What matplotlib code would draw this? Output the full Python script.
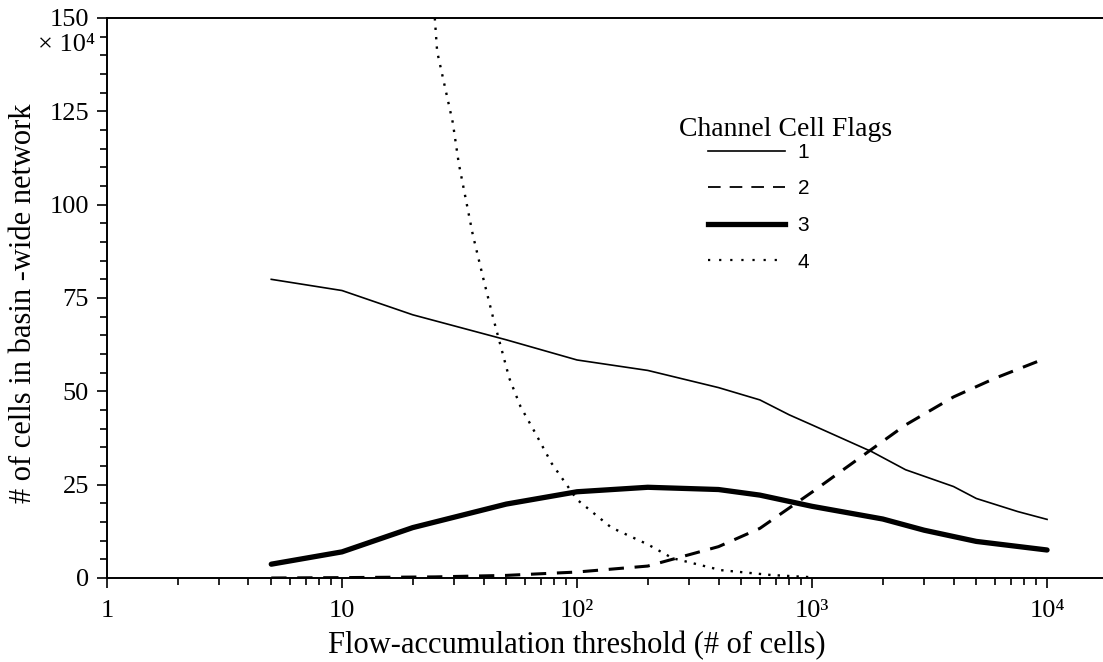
import matplotlib
matplotlib.use('Agg')
import matplotlib.pyplot as plt
from matplotlib.lines import Line2D
from matplotlib.ticker import LogLocator, MultipleLocator, FixedLocator, FixedFormatter, NullFormatter

plt.rcParams['font.family'] = ['Liberation Serif', 'DejaVu Serif']

# flag 1 (thin solid)
x1 = [5, 10, 20, 50, 100, 200, 400, 600, 800, 1000, 1800, 2500, 4000, 5000, 7500, 10000]
y1 = [80, 77, 70.5, 63.8, 58.4, 55.6, 51, 47.7, 43.7, 41, 33.8, 29, 24.5, 21.3, 17.8, 15.7]
# flag 2 (dashed)
x2 = [5, 10, 25, 50, 100, 200, 400, 600, 1000, 2500, 4000, 6000, 10000]
y2 = [0, 0.1, 0.3, 0.7, 1.6, 3.2, 8.4, 13.3, 23, 41, 48.5, 53.5, 59]
# flag 3 (thick solid)
x3 = [5, 10, 20, 50, 100, 200, 400, 600, 1000, 2000, 3000, 5000, 10000]
y3 = [3.7, 7, 13.5, 19.8, 23.1, 24.3, 23.7, 22.2, 19.2, 15.8, 12.8, 9.8, 7.5]
# flag 4 (dotted)
x4 = [24.5, 25.4, 29.6, 31.4, 36, 40, 44, 51.5, 57.5, 66.5, 78, 100, 140, 200, 255, 410, 670, 1000]
y4 = [155, 141, 122, 111, 92, 80, 69.6, 53.5, 45.9, 38.8, 30.7, 21, 13.5, 9, 5.3, 2.1, 0.8, 0.2]

flag_labels = ['1', '2', '3', '4']
xtick_vals = [1, 10, 100, 1000, 10000]
xtick_labels = ['1', '10', '10²', '10³', '10⁴']
ytick_vals = [0, 25, 50, 75, 100, 125, 150]

fig = plt.figure(figsize=(11.03, 6.62), dpi=100)
ax = fig.add_axes([107 / 1103, 1 - 578 / 662, 1 - 107 / 1103, 560 / 662])

l1, = ax.plot(x1, y1, color='black', lw=1.2)
l2, = ax.plot(x2, y2, color='black', lw=2.2, dashes=(5, 3.5))
l3, = ax.plot(x3, y3, color='black', lw=3.8, solid_capstyle='round')
l4, = ax.plot(x4, y4, color='black', lw=1.7, linestyle=(0, (1, 3)))

ax.set_xscale('log')
ax.set_xlim(1, 17300)
ax.set_ylim(0, 150)

ax.xaxis.set_major_locator(FixedLocator(xtick_vals))
ax.xaxis.set_major_formatter(FixedFormatter(xtick_labels))
ax.xaxis.set_minor_locator(LogLocator(base=10, subs=range(2, 10), numticks=20))
ax.xaxis.set_minor_formatter(NullFormatter())
ax.yaxis.set_major_locator(FixedLocator(ytick_vals))
ax.yaxis.set_minor_locator(MultipleLocator(5))

ax.tick_params(axis='both', which='both', direction='out', top=False, right=False,
               labelsize=19, width=1.2)
ax.tick_params(axis='both', which='major', length=7)
ax.tick_params(axis='both', which='minor', length=5)
ax.tick_params(axis='y', pad=6)
ax.tick_params(axis='x', pad=9)

ax.spines['right'].set_visible(False)
for s in ['left', 'bottom', 'top']:
    ax.spines[s].set_linewidth(1.4)

ax.set_xlabel('Flow-accumulation threshold (# of cells)', fontsize=22, labelpad=6)
ax.xaxis.label.set_x(0.472)
ax.set_ylabel('# of cells in basin -wide network', fontsize=22, labelpad=8)
ax.yaxis.label.set_y(0.49)
fig.text(95 / 1103, 1 - 45 / 662, '× 10⁴', fontsize=19, ha='right', va='center')

ax.text((786 - 107) / 996, (578 - 130) / 560, 'Channel Cell Flags', fontsize=20,
        ha='center', va='center', transform=ax.transAxes)
leg_handles = [Line2D([], [], color='black', lw=1.2),
               Line2D([], [], color='black', lw=1.3, dashes=(7, 5)),
               Line2D([], [], color='black', lw=3.8),
               Line2D([], [], color='black', lw=1.6, linestyle=(0, (1, 4)))]
ax.legend(leg_handles, flag_labels, loc='upper left', frameon=False,
          bbox_to_anchor=((708 - 107) / 996, (578 - 143) / 560),
          borderpad=0, borderaxespad=0, handlelength=3.7, handletextpad=0.6,
          labelspacing=0.84, prop={'family': 'Liberation Sans', 'size': 15})

plt.savefig('out.png', dpi=100)
